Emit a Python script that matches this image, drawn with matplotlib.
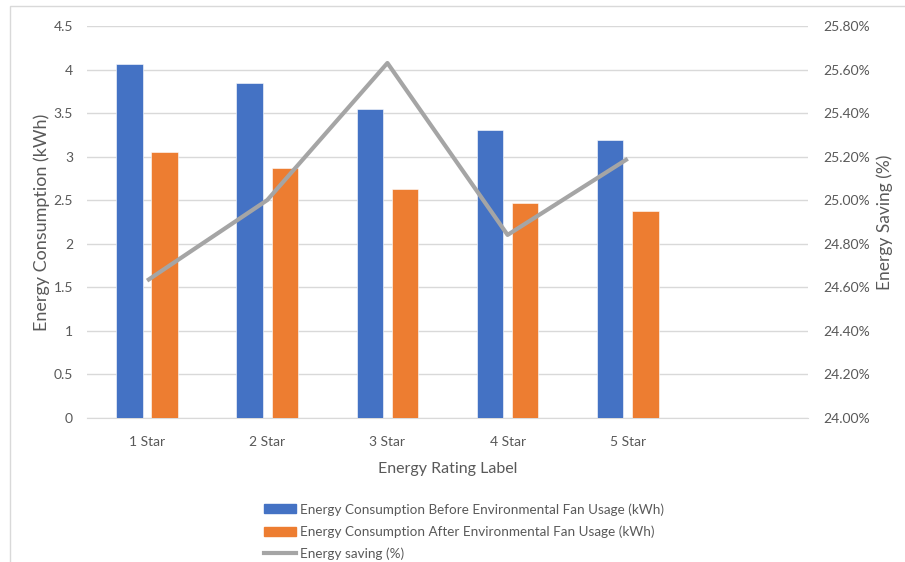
import matplotlib
matplotlib.use("Agg")
import matplotlib.pyplot as plt
from matplotlib.patches import Rectangle
from matplotlib.ticker import FuncFormatter, MultipleLocator
from matplotlib.lines import Line2D
import numpy as np

categories = ["1 Star", "2 Star", "3 Star", "4 Star", "5 Star"]
before_kwh = [4.06, 3.84, 3.55, 3.30, 3.19]
after_kwh = [3.05, 2.87, 2.63, 2.47, 2.38]
saving_pct = [24.63, 25.00, 25.63, 24.84, 25.19]

BLUE = "#4472C4"
ORANGE = "#ED7D31"
GREY = "#A5A5A5"
GRID = "#D9D9D9"
TEXT = "#595959"

plt.rcParams["font.family"] = ["Lato", "DejaVu Sans"]

W, H = 905, 562
fig = plt.figure(figsize=(W / 100, H / 100), dpi=100)

# outer frame
fig.patches.append(Rectangle((10 / W, -0.05), 1.2, 1 - 6 / H + 0.05,
                             transform=fig.transFigure, fill=False,
                             edgecolor=GRID, linewidth=1.0))

left, right, bottom, top = 87, 808, 417.7, 26
ax = fig.add_axes([left / W, 1 - bottom / H, (right - left) / W, (bottom - top) / H])
ax2 = ax.twinx()

x = np.arange(len(categories))
bw = 0.22
off = 0.146
ax.bar(x - off, before_kwh, bw, color=BLUE, edgecolor="white", linewidth=0.4, zorder=3,
       label="Energy Consumption Before Environmental Fan Usage (kWh)")
ax.bar(x + off, after_kwh, bw, color=ORANGE, edgecolor="white", linewidth=0.4, zorder=3,
       label="Energy Consumption After Environmental Fan Usage (kWh)")
ax2.plot(x, saving_pct, color=GREY, linewidth=3.0, solid_capstyle="butt", zorder=4,
         label="Energy saving (%)")

ax.set_xlim(-0.5, 5.5)
ax.set_ylim(0, 4.5)
ax.yaxis.set_major_locator(MultipleLocator(0.5))
ax.yaxis.set_major_formatter(FuncFormatter(lambda v, p: f"{v:g}"))
ax2.set_ylim(24.0, 25.8)
ax2.yaxis.set_major_locator(MultipleLocator(0.2))
ax2.yaxis.set_major_formatter(FuncFormatter(lambda v, p: f"{v:.2f}%"))

ax.set_xticks(x)
ax.set_xticklabels(categories)

ax.grid(axis="y", color=GRID, linewidth=1.0, zorder=0)
ax.set_axisbelow(True)
for a in (ax, ax2):
    for s in a.spines.values():
        s.set_visible(False)
    a.tick_params(length=0, colors=TEXT, labelsize=10)
ax.spines["bottom"].set_visible(True)
ax.spines["bottom"].set_color(GRID)
ax.tick_params(axis="y", pad=10)
ax.tick_params(axis="x", pad=13)
ax2.tick_params(axis="y", pad=11)

# axis titles placed at fixed figure positions
fig.text(448 / W, 1 - 469 / H, "Energy Rating Label", color=TEXT, fontsize=11.5,
         ha="center", va="center")
fig.text(42 / W, 1 - 222 / H, "Energy Consumption (kWh)", color=TEXT, fontsize=13,
         ha="center", va="center", rotation=90)
fig.text(885 / W, 1 - 222 / H, "Energy Saving (%)", color=TEXT, fontsize=12.5,
         ha="center", va="center", rotation=90)

handles = [
    Rectangle((0, 0), 1, 1, color=BLUE),
    Rectangle((0, 0), 1, 1, color=ORANGE),
    Line2D([0], [0], color=GREY, linewidth=3),
]
labels = [
    "Energy Consumption Before Environmental Fan Usage (kWh)",
    "Energy Consumption After Environmental Fan Usage (kWh)",
    "Energy saving (%)",
]
leg = fig.legend(handles, labels, loc="upper left", bbox_to_anchor=(264 / W, 1 - 503 / H),
                 frameon=False, fontsize=9.7, handlelength=2.35, handleheight=0.65,
                 handletextpad=0.3, labelspacing=0.72, borderaxespad=0, borderpad=0)
for t in leg.get_texts():
    t.set_color(TEXT)

fig.savefig("out.png", dpi=100)
